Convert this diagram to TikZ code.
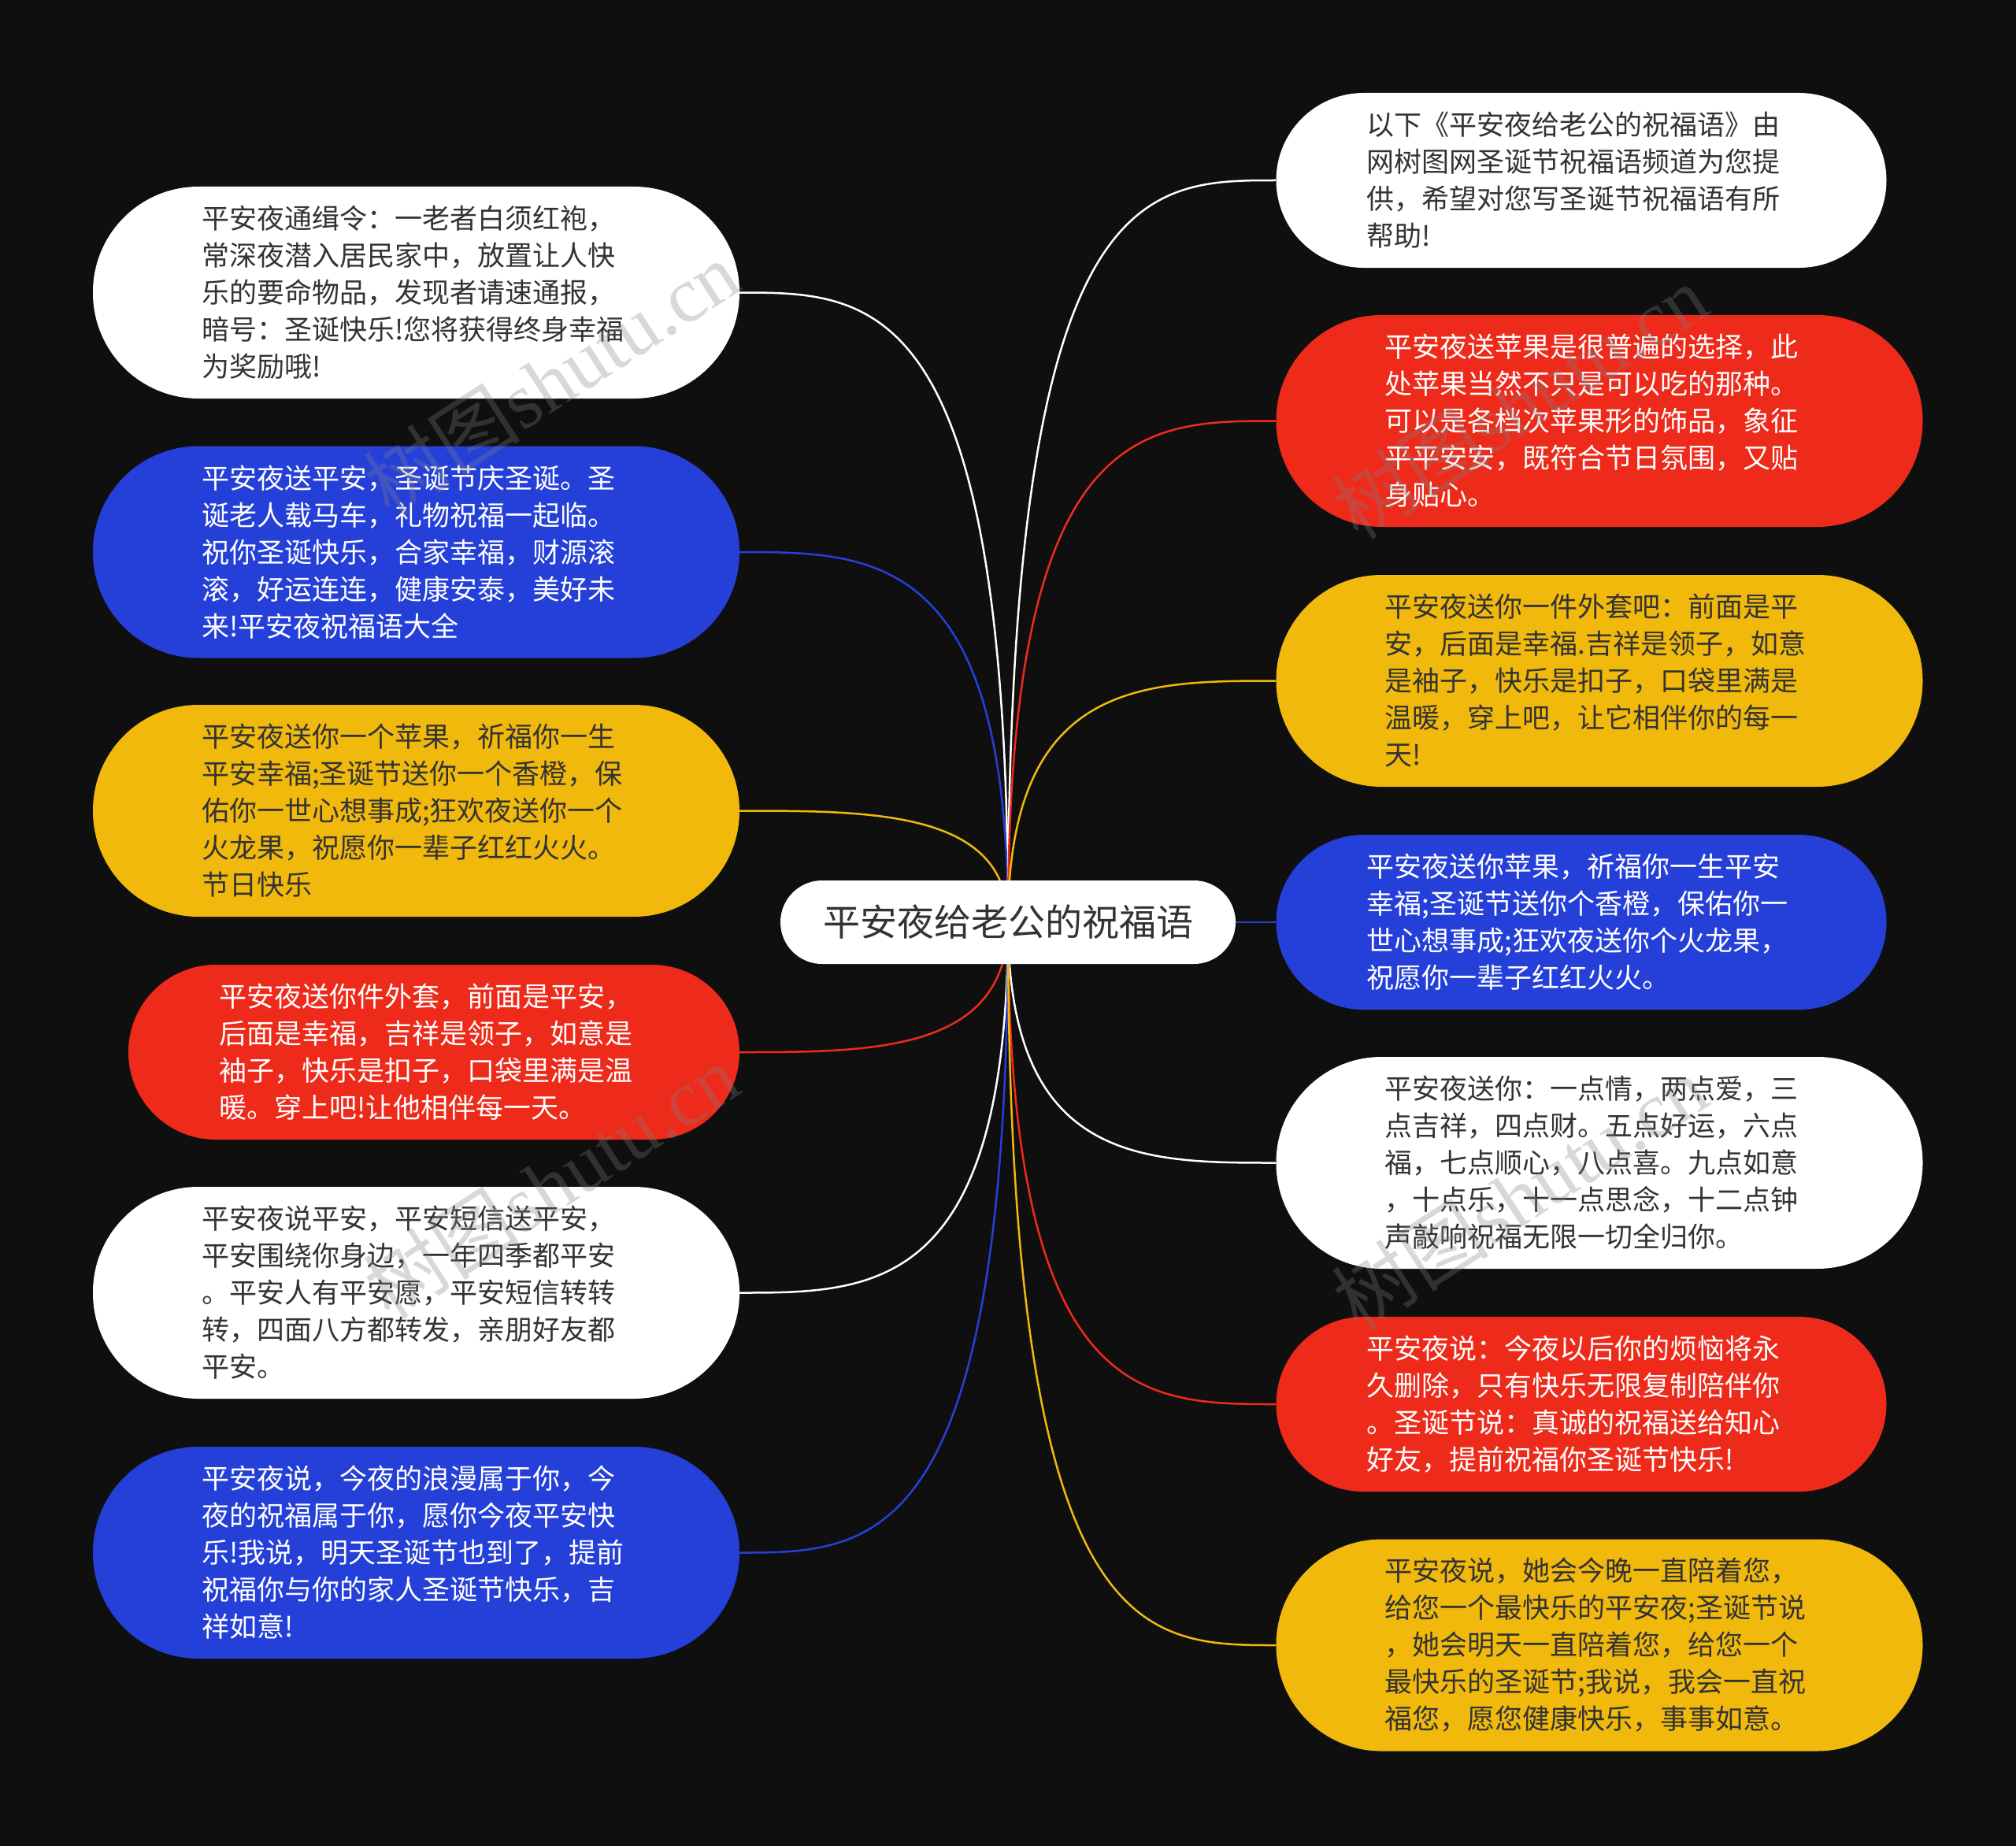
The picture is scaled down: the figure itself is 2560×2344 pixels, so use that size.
\documentclass[tikz,border=0pt]{standalone}
\usepackage{fontspec}
\setmainfont{Noto Sans CJK SC}
\newfontfamily\wmserif{Liberation Serif}
\usetikzlibrary{backgrounds,calc}
\definecolor{bgc}{HTML}{0F0F0F}
\definecolor{cblue}{HTML}{2540D9}
\definecolor{cred}{HTML}{EE2B1B}
\definecolor{cyel}{HTML}{F0B90C}
\definecolor{ctxt}{HTML}{333333}
\tikzset{
  base/.style={inner sep=0pt, text width=545pt, align=left, font=\fontsize{35}{47}\selectfont},
  tallbox/.style={base, minimum height=269pt, rounded corners=134pt},
  shortbox/.style={base, minimum height=222pt, rounded corners=111pt},
  wide/.style={minimum width=821pt},
  narrow/.style={minimum width=775pt},
  wbox/.style={fill=white, text=ctxt},
  bbox/.style={fill=cblue, text=white},
  rbox/.style={fill=cred, text=white},
  ybox/.style={fill=cyel, text=ctxt},
  conn/.style={line width=2.5pt},
  wmark/.style={rotate=33, text=gray, opacity=0.3, font=\fontsize{100}{100}\selectfont},
  centerbox/.style={fill=white, text=ctxt, inner sep=0pt, minimum width=578pt, minimum height=106pt, rounded corners=53pt, font=\fontsize{47}{56}\selectfont},
}
\newcommand{\cv}[3]{\draw[conn,#1] (#2.center) .. controls (#2.center |- #3) and ($(#2.center |- #3)!0.5!(#3)$) .. (#3);}
\begin{document}
\begin{tikzpicture}[x=1pt,y=1pt]
\useasboundingbox (0,0) rectangle (2560,-2344);
% center
\node[centerbox] (c) at (1280,-1171) {平安夜给老公的祝福语};
% left
\node[tallbox, wide, wbox] (l1) at (528.5,-371.5) {平安夜通缉令：一老者白须红袍，\\常深夜潜入居民家中，放置让人快\\乐的要命物品，发现者请速通报，\\暗号：圣诞快乐!您将获得终身幸福\\为奖励哦!};
\node[tallbox, wide, bbox] (l2) at (528.5,-701) {平安夜送平安，圣诞节庆圣诞。圣\\诞老人载马车，礼物祝福一起临。\\祝你圣诞快乐，合家幸福，财源滚\\滚，好运连连，健康安泰，美好未\\来!平安夜祝福语大全};
\node[tallbox, wide, ybox] (l3) at (528.5,-1029.5) {平安夜送你一个苹果，祈福你一生\\平安幸福;圣诞节送你一个香橙，保\\佑你一世心想事成;狂欢夜送你一个\\火龙果，祝愿你一辈子红红火火。\\节日快乐};
\node[shortbox, minimum width=776pt, rbox] (l4) at (551,-1336) {平安夜送你件外套，前面是平安，\\后面是幸福，吉祥是领子，如意是\\袖子，快乐是扣子，口袋里满是温\\暖。穿上吧!让他相伴每一天。};
\node[tallbox, wide, wbox] (l5) at (528.5,-1641.5) {平安夜说平安，平安短信送平安，\\平安围绕你身边，一年四季都平安\\。平安人有平安愿，平安短信转转\\转，四面八方都转发，亲朋好友都\\平安。};
\node[tallbox, wide, bbox] (l6) at (528.5,-1971.5) {平安夜说，今夜的浪漫属于你，今\\夜的祝福属于你，愿你今夜平安快\\乐!我说，明天圣诞节也到了，提前\\祝福你与你的家人圣诞节快乐，吉\\祥如意!};
% right
\node[shortbox, narrow, wbox] (r1) at (2008,-229) {以下《平安夜给老公的祝福语》由\\网树图网圣诞节祝福语频道为您提\\供，希望对您写圣诞节祝福语有所\\帮助!};
\node[tallbox, wide, rbox] (r2) at (2031,-534.5) {平安夜送苹果是很普遍的选择，此\\处苹果当然不只是可以吃的那种。\\可以是各档次苹果形的饰品，象征\\平平安安，既符合节日氛围，又贴\\身贴心。};
\node[tallbox, wide, ybox] (r3) at (2031,-864.5) {平安夜送你一件外套吧：前面是平\\安，后面是幸福.吉祥是领子，如意\\是袖子，快乐是扣子，口袋里满是\\温暖，穿上吧，让它相伴你的每一\\天!};
\node[shortbox, narrow, bbox] (r4) at (2008,-1171) {平安夜送你苹果，祈福你一生平安\\幸福;圣诞节送你个香橙，保佑你一\\世心想事成;狂欢夜送你个火龙果，\\祝愿你一辈子红红火火。};
\node[tallbox, wide, wbox] (r5) at (2031,-1476.5) {平安夜送你：一点情，两点爱，三\\点吉祥，四点财。五点好运，六点\\福，七点顺心，八点喜。九点如意\\，十点乐，十一点思念，十二点钟\\声敲响祝福无限一切全归你。};
\node[shortbox, narrow, rbox] (r6) at (2008,-1783) {平安夜说：今夜以后你的烦恼将永\\久删除，只有快乐无限复制陪伴你\\。圣诞节说：真诚的祝福送给知心\\好友，提前祝福你圣诞节快乐!};
\node[tallbox, wide, ybox] (r7) at (2031,-2089) {平安夜说，她会今晚一直陪着您，\\给您一个最快乐的平安夜;圣诞节说\\，她会明天一直陪着您，给您一个\\最快乐的圣诞节;我说，我会一直祝\\福您，愿您健康快乐，事事如意。};
% watermarks
\node[wmark] (w1) at (700,-480) {树图{\wmserif shutu.cn}};
\node[wmark] (w2) at (700,-1500) {树图{\wmserif shutu.cn}};
\node[wmark] (w3) at (1930,-510) {树图{\wmserif shutu.cn}};
\node[wmark] (w4) at (1930,-1515) {树图{\wmserif shutu.cn}};
\begin{pgfonlayer}{background}
\fill[bgc] (0,0) rectangle (2560,-2344);
\cv{white}{c}{l1.east}
\cv{cblue}{c}{l2.east}
\cv{cyel}{c}{l3.east}
\cv{cred}{c}{l4.east}
\cv{white}{c}{l5.east}
\cv{cblue}{c}{l6.east}
\cv{white}{c}{r1.west}
\cv{cred}{c}{r2.west}
\cv{cyel}{c}{r3.west}
\draw[conn,cblue] (c.center) -- (r4.west);
\cv{white}{c}{r5.west}
\cv{cred}{c}{r6.west}
\cv{cyel}{c}{r7.west}
\end{pgfonlayer}
\end{tikzpicture}
\end{document}
